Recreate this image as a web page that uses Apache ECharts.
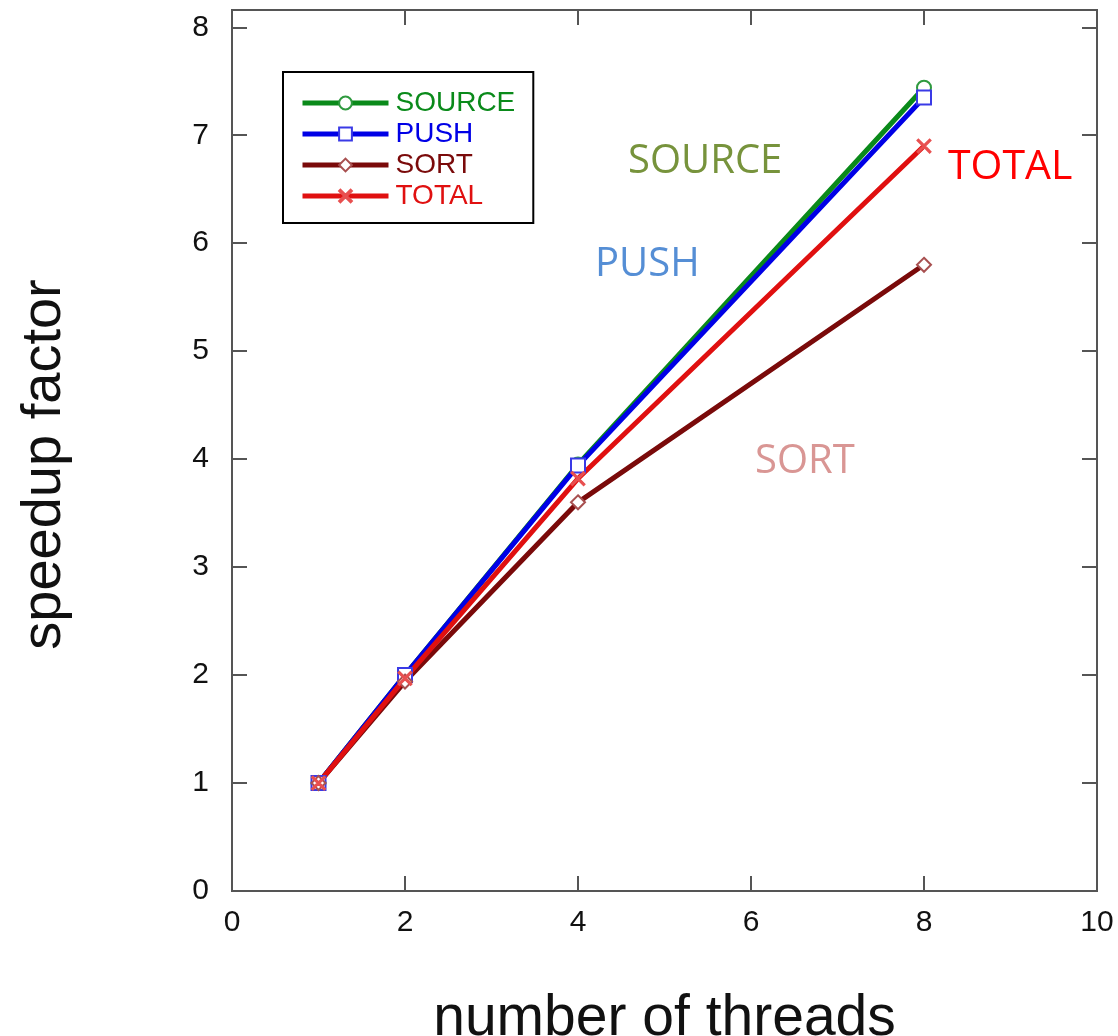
<!DOCTYPE html>
<html>
<head>
<meta charset="utf-8">
<script src="https://cdn.jsdelivr.net/npm/echarts@6/dist/echarts.min.js"></script>
<style>
  html, body { margin: 0; padding: 0; background: #fff; }
  #speedup { width: 1118px; height: 1036px; }
</style>
</head>
<body>
<div id="speedup"></div>
<script>
// 线程数与加速比
var threads = [1, 2, 4, 8];
var sourceVals = [1, 2.0, 3.95, 7.44];
var pushVals = [1, 2.0, 3.94, 7.35];
var sortVals = [1, 1.94, 3.6, 5.8];
var totalVals = [1, 1.97, 3.82, 6.9];
var seriesNames = ['SOURCE', 'PUSH', 'SORT', 'TOTAL'];

var myChart = echarts.init(document.getElementById('speedup'));

function pairs(vals) {
    return threads.map(function (t, i) { return [t, vals[i]]; });
}

var crossPath = 'path://M0,1L1,0L5,4L9,0L10,1L6,5L10,9L9,10L5,6L1,10L0,9L4,5Z';

var tickStyle = { show: true, inside: true, length: 15, lineStyle: { color: '#555', width: 2 } };
var labelFont = { fontFamily: 'Liberation Sans', fontSize: 30, color: '#111' };

function lineSeries(name, vals, lineColor, symbol, symColor) {
    return {
        name: name,
        type: 'line',
        data: pairs(vals),
        symbol: symbol,
        symbolSize: 14,
        showAllSymbol: true,
        lineStyle: { color: lineColor, width: 5 },
        itemStyle: { color: symColor, borderColor: symColor, borderWidth: 1.2 },
        emphasis: { disabled: true }
    };
}

var option = {
    animation: false,
    grid: {
        left: 232, right: 21, top: 10, bottom: 145,
        outerBoundsMode: 'none',
        containLabel: false,
        show: true, borderColor: '#555', borderWidth: 2
    },
    legend: {
        orient: 'vertical',
        left: 283, top: 72,
        padding: [17, 18, 13, 17],
        itemWidth: 86, itemHeight: 16, itemGap: 3,
        borderColor: '#000', borderWidth: 2, backgroundColor: '#fff',
        lineStyle: { width: 5 },
        textStyle: { fontFamily: 'Liberation Sans', fontSize: 28, padding: [0, 0, 0, 2] },
        data: [
            { name: 'SOURCE', textStyle: { color: '#0a8a1a' } },
            { name: 'PUSH', textStyle: { color: '#0000e6' } },
            { name: 'SORT', textStyle: { color: '#7a0a0a' } },
            { name: 'TOTAL', textStyle: { color: '#e01010' } }
        ]
    },
    xAxis: [{
        type: 'value', min: 0, max: 10, interval: 2,
        name: 'number of threads', nameLocation: 'middle', nameGap: 100,
        nameTextStyle: { fontFamily: 'Liberation Sans', fontSize: 57, color: '#111' },
        axisLine: { show: true, onZero: false, lineStyle: { color: '#555', width: 2 } },
        axisTick: tickStyle,
        axisLabel: Object.assign({ margin: 17 }, labelFont),
        splitLine: { show: false }
    }, {
        type: 'value', min: 0, max: 10, interval: 2, position: 'top',
        axisLine: { show: false, onZero: false },
        axisTick: tickStyle,
        axisLabel: { show: false },
        splitLine: { show: false }
    }],
    yAxis: [{
        type: 'value', min: 0, max: 8.16, interval: 1,
        name: 'speedup factor', nameLocation: 'middle', nameGap: 159,
        nameTextStyle: { fontFamily: 'Liberation Sans', fontSize: 56, color: '#111', padding: [0, 28, 0, 0] },
        axisLine: { show: true, onZero: false, lineStyle: { color: '#555', width: 2 } },
        axisTick: tickStyle,
        axisLabel: Object.assign({ margin: 23, showMaxLabel: false, padding: [0, 0, 10, 0] }, labelFont),
        splitLine: { show: false }
    }, {
        type: 'value', min: 0, max: 8.16, interval: 1, position: 'right',
        axisLine: { show: false, onZero: false },
        axisTick: tickStyle,
        axisLabel: { show: false },
        splitLine: { show: false }
    }],
    graphic: [
        { type: 'text', left: 628, top: 142, style: { text: 'SOURCE', font: '40px "Open Sans"', fill: '#77933C' } },
        { type: 'text', left: 595, top: 245, style: { text: 'PUSH', font: '40px "Open Sans"', fill: '#558ED5' } },
        { type: 'text', left: 948, top: 147, style: { text: 'TOTAL', font: '41px "Open Sans"', fill: '#FF0000' } },
        { type: 'text', left: 755, top: 442, style: { text: 'SORT', font: '40px "Open Sans"', fill: '#D99694' } }
    ],
    series: [
        lineSeries(seriesNames[0], sourceVals, '#0a8a1a', 'emptyCircle', '#2f9a3f'),
        lineSeries(seriesNames[1], pushVals, '#0000e6', 'emptyRect', '#3a3ae6'),
        lineSeries(seriesNames[2], sortVals, '#7a0a0a', 'emptyDiamond', '#a85050'),
        lineSeries(seriesNames[3], totalVals, '#e01010', crossPath, '#e85050')
    ]
};

myChart.setOption(option);

window.onresize = function () {
    myChart.resize();
};
</script>
</body>
</html>
